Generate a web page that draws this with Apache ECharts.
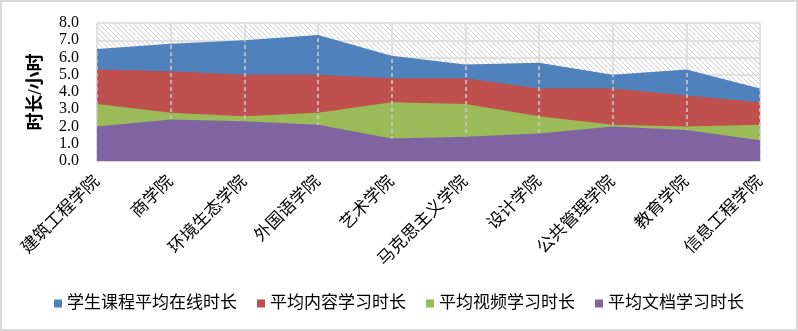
<!DOCTYPE html>
<html>
<head>
<meta charset="utf-8">
<script src="https://cdn.jsdelivr.net/npm/echarts@6/dist/echarts.min.js"></script>
<style>
  html, body { margin: 0; padding: 0; background: #fff; }
  #chart { width: 798px; height: 331px; }
</style>
</head>
<body>
<div id="chart"></div>
<script>
// College names along the category axis
const colleges = ['建筑工程学院', '商学院', '环境生态学院', '外国语学院', '艺术学院',
  '马克思主义学院', '设计学院', '公共管理学院', '教育学院', '信息工程学院'];

// Average durations in hours
const onlineHours  = [6.5, 6.8, 7.0, 7.3, 6.1, 5.6, 5.7, 5.0, 5.3, 4.2];
const contentHours = [5.3, 5.2, 5.0, 5.0, 4.8, 4.8, 4.2, 4.2, 3.8, 3.4];
const videoHours   = [3.3, 2.8, 2.6, 2.8, 3.4, 3.3, 2.6, 2.1, 2.0, 2.1];
const docHours     = [2.0, 2.4, 2.3, 2.1, 1.3, 1.4, 1.6, 2.0, 1.8, 1.2];

const seriesNames = ['学生课程平均在线时长', '平均内容学习时长', '平均视频学习时长', '平均文档学习时长'];
const seriesColors = ['#4F81BD', '#C0504D', '#9BBB59', '#8064A2'];
const yTicks = { min: 0, max: 8, step: 1 };

// Diagonal hatch tile used as the plot-area background
function hatchTile() {
  const s = 5;
  const c = document.createElement('canvas');
  c.width = s; c.height = s;
  const g = c.getContext('2d');
  g.fillStyle = '#ffffff';
  g.fillRect(0, 0, s, s);
  g.strokeStyle = '#cfcfcf';
  g.lineWidth = 1;
  g.beginPath();
  g.moveTo(-1, -1); g.lineTo(s + 1, s + 1);
  g.moveTo(-1, s - 1); g.lineTo(1, s + 1);
  g.moveTo(s - 1, -1); g.lineTo(s + 1, 1);
  g.stroke();
  return c;
}

const font = "'Liberation Serif', 'Noto Sans CJK SC', serif";
const chart = echarts.init(document.getElementById('chart'));

const allSeries = [onlineHours, contentHours, videoHours, docHours].map((vals, i) => ({
  name: seriesNames[i],
  type: 'line',
  data: vals,
  symbol: 'none',
  lineStyle: { width: 0 },
  itemStyle: { color: seriesColors[i] },
  areaStyle: { color: seriesColors[i], opacity: 1 },
  silent: true,
  z: 2 + i
}));

// Dashed drop lines from the top of the online-time area down to the axis
allSeries[3].markLine = {
  silent: true,
  symbol: ['none', 'none'],
  label: { show: false },
  lineStyle: { color: '#cccccc', width: 1.5, type: [4, 3] },
  data: onlineHours.map((v, i) => [{ coord: [i, 0] }, { coord: [i, v] }])
};

chart.setOption({
  animation: false,
  backgroundColor: '#ffffff',
  graphic: [{
    type: 'rect',
    shape: { x: 1, y: 1, width: 796, height: 329 },
    style: { fill: 'none', stroke: '#d9d9d9', lineWidth: 2 },
    silent: true
  }],
  grid: {
    left: 97, right: 38, top: 23, bottom: 170,
    show: true,
    borderWidth: 0,
    backgroundColor: { image: hatchTile(), repeat: 'repeat' }
  },
  legend: {
    data: seriesNames,
    bottom: 14,
    left: 'center',
    icon: 'rect',
    itemWidth: 8,
    itemHeight: 8,
    itemGap: 20,
    textStyle: { fontFamily: font, fontSize: 17, color: '#000' }
  },
  xAxis: {
    type: 'category',
    data: colleges,
    boundaryGap: false,
    axisLine: { show: true, lineStyle: { color: '#d9d9d9', width: 1 } },
    axisTick: { show: false },
    splitLine: { show: true, lineStyle: { color: '#d9d9d9', width: 1.5 } },
    axisLabel: {
      interval: 0,
      rotate: 45,
      margin: 18,
      fontFamily: font,
      fontSize: 17,
      color: '#000'
    }
  },
  yAxis: {
    type: 'value',
    min: yTicks.min,
    max: yTicks.max,
    interval: yTicks.step,
    name: '时长/小时',
    nameLocation: 'middle',
    nameGap: 52,
    nameTextStyle: { fontFamily: font, fontSize: 18, fontWeight: 'bold', color: '#000' },
    axisLine: { show: false },
    axisTick: { show: false },
    splitLine: { show: true, lineStyle: { color: '#d9d9d9', width: 1.5 } },
    axisLabel: {
      margin: 18,
      fontFamily: font,
      fontSize: 16,
      color: '#000',
      formatter: v => v.toFixed(1)
    }
  },
  series: allSeries
});
</script>
</body>
</html>
